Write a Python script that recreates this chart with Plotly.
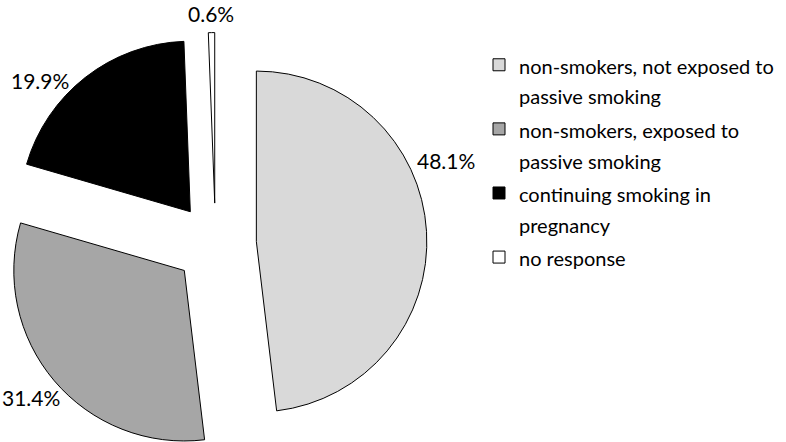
import plotly.graph_objects as go

categories = ["non-smokers, not exposed to<br>passive smoking",
              "non-smokers, exposed to<br>passive smoking",
              "continuing smoking in<br>pregnancy",
              "no response"]
values = [48.1, 31.4, 19.9, 0.6]
colors = ["#d9d9d9", "#a6a6a6", "#000000", "#ffffff"]

W, H = 786, 456
FONT = "Lato"

# pie geometry (pixels): centre, radius and pull
CX, CY, PULL = 215.5, 244.0, 0.24
R = 170.5
half = R * (1 + PULL)

legend_labels = [f"<span style='font-size:20px'>{c}</span>" for c in categories]

fig = go.Figure(go.Pie(
    labels=legend_labels,
    values=values,
    sort=False,
    direction="clockwise",
    rotation=0,
    pull=[PULL] * len(values),
    marker=dict(colors=colors, line=dict(color="#000000", width=1)),
    textinfo="none",
    hoverinfo="percent",
    domain=dict(x=[(CX - half) / W, (CX + half) / W],
                y=[0, 1 - (CY - (H - CY)) / H]),
))

# percentage labels (text taken from the values)
label_pos = [(446, 160), (31, 397), (40, 81), (211, 14)]
for v, (px, py) in zip(values, label_pos):
    fig.add_annotation(x=px / W, y=1 - py / H, xref="paper", yref="paper",
                       text=f"{v:.1f}%", showarrow=False,
                       font=dict(family=FONT, size=21, color="#000000"),
                       xanchor="center", yanchor="middle")

fig.update_layout(
    width=W, height=H,
    margin=dict(l=0, r=0, t=0, b=0),
    paper_bgcolor="white", plot_bgcolor="white",
    font=dict(family=FONT, size=20, color="#000000"),
    showlegend=True,
    legend=dict(x=479 / W, y=1 - 43 / H, xanchor="left", yanchor="top",
                font=dict(family=FONT, size=23.5, color="#000000"),
                traceorder="normal", valign="top"),
)
fig.write_html("out.html", config={"displayModeBar": False},
               post_script="document.body.style.margin='0px';")
